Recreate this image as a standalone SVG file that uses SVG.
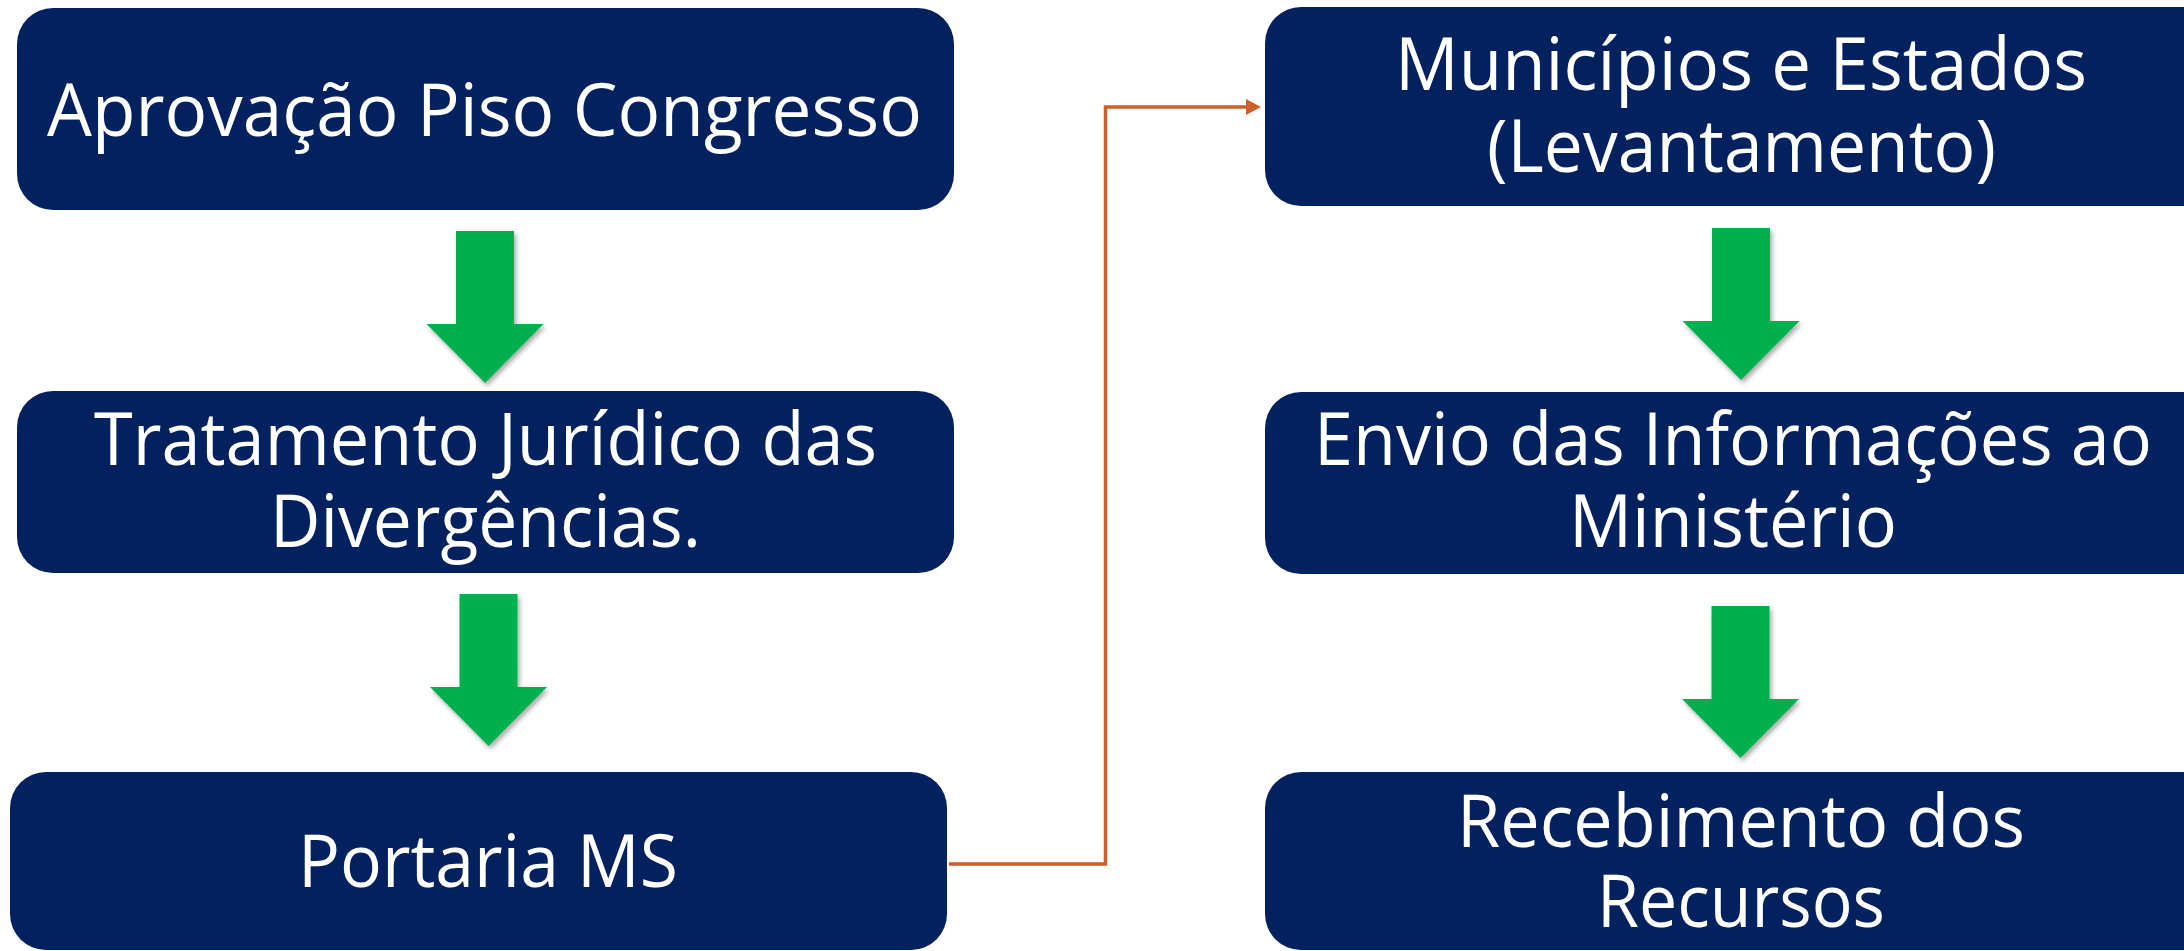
<svg xmlns="http://www.w3.org/2000/svg" width="2184" height="951" viewBox="0 0 2184 951">
<style>
.box{fill:#03215F;}
.lbl{fill:#FFFFFF;font-family:"Open Sans","Noto Sans","DejaVu Sans",sans-serif;font-size:73px;text-anchor:middle;}
.conn{fill:none;stroke:#CD5F2A;stroke-width:3.5;}
.garrow{fill:#00B050;}
</style>
<defs>
<filter id="sh" x="-30%" y="-30%" width="160%" height="160%">
<feDropShadow dx="2" dy="3" stdDeviation="2.5" flood-color="#000000" flood-opacity="0.35"/>
</filter>
<path id="ga" d="M-29,0 L29,0 L29,93 L58.5,93 L0,152 L-58.5,93 L-29,93 Z"/>
<marker id="oh" markerUnits="userSpaceOnUse" markerWidth="16" markerHeight="18" refX="1" refY="8" orient="auto">
<path d="M0,0 L15,8 L0,16 Z" fill="#CD5F2A"/>
</marker>
</defs>
<rect width="2184" height="951" fill="#FFFFFF"/>
<g id="connectors">
<polyline class="conn" points="949,864 1105.5,864 1105.5,107 1247,107" marker-end="url(#oh)"/>
<use href="#ga" class="garrow" filter="url(#sh)" transform="translate(485,231)"/>
<use href="#ga" class="garrow" filter="url(#sh)" transform="translate(488.5,594)"/>
<use href="#ga" class="garrow" filter="url(#sh)" transform="translate(1741,228)"/>
<use href="#ga" class="garrow" filter="url(#sh)" transform="translate(1740.5,606)"/>
</g>
<g id="node-aprovacao">
<rect class="box" x="17" y="8" width="937" height="202" rx="36" ry="36"/>
<text class="lbl" x="484.5" y="136" textLength="875" lengthAdjust="spacingAndGlyphs">Aprovação Piso Congresso</text>
</g>
<g id="node-tratamento">
<rect class="box" x="17" y="391" width="937" height="182" rx="36" ry="36"/>
<text class="lbl" x="485.5" y="465" textLength="783" lengthAdjust="spacingAndGlyphs">Tratamento Jurídico das</text>
<text class="lbl" x="485.5" y="547" textLength="431" lengthAdjust="spacingAndGlyphs">Divergências.</text>
</g>
<g id="node-portaria">
<rect class="box" x="10" y="772" width="937" height="178" rx="36" ry="36"/>
<text class="lbl" x="488" y="887" textLength="380" lengthAdjust="spacingAndGlyphs">Portaria MS</text>
</g>
<g id="node-municipios">
<rect class="box" x="1265" y="7" width="952" height="199" rx="36" ry="36"/>
<text class="lbl" x="1741" y="90" textLength="692" lengthAdjust="spacingAndGlyphs">Municípios e Estados</text>
<text class="lbl" x="1741.5" y="172" textLength="509" lengthAdjust="spacingAndGlyphs">(Levantamento)</text>
</g>
<g id="node-envio">
<rect class="box" x="1265" y="392" width="952" height="182" rx="36" ry="36"/>
<text class="lbl" x="1733" y="465" textLength="838" lengthAdjust="spacingAndGlyphs">Envio das Informações ao</text>
<text class="lbl" x="1733" y="547" textLength="328" lengthAdjust="spacingAndGlyphs">Ministério</text>
</g>
<g id="node-recebimento">
<rect class="box" x="1265" y="772" width="952" height="178" rx="36" ry="36"/>
<text class="lbl" x="1741" y="847" textLength="568" lengthAdjust="spacingAndGlyphs">Recebimento dos</text>
<text class="lbl" x="1741" y="927" textLength="288" lengthAdjust="spacingAndGlyphs">Recursos</text>
</g>
</svg>
